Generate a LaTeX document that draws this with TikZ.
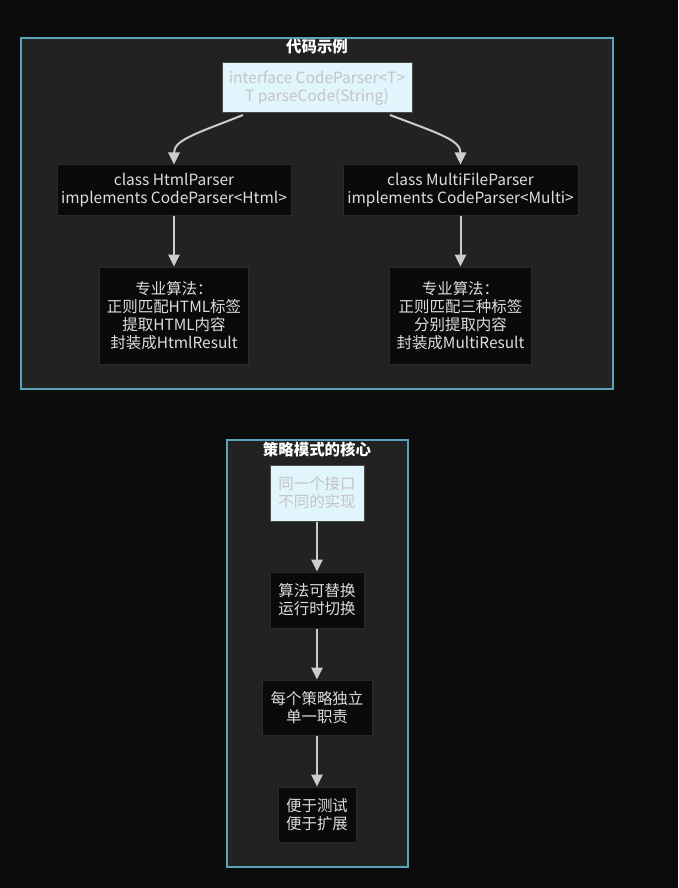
\documentclass[tikz,border=0pt]{standalone}
\usepackage{fontspec}
\setmainfont{Noto Sans CJK SC}
\usepackage{tikz}
\usetikzlibrary{arrows.meta}

\definecolor{pagebg}{HTML}{0B0B0B}
\definecolor{clusterbg}{HTML}{222222}
\definecolor{clusterline}{HTML}{5AA3BC}
\definecolor{ifacebg}{HTML}{E1F5FD}
\definecolor{ifaceline}{HTML}{4A4A4A}
\definecolor{ifacetext}{HTML}{C4C4C4}
\definecolor{boxbg}{HTML}{0A0A0A}
\definecolor{boxline}{HTML}{2A2A2A}
\definecolor{boxtext}{HTML}{DDDDDD}
\definecolor{edgecol}{HTML}{CCCCCC}

\tikzset{
  cluster/.style={draw=clusterline, fill=clusterbg, line width=1pt},
  clustertitle/.style={text=white, font=\fontsize{11.6}{13}\selectfont\bfseries},
  ifacebox/.style={draw=ifaceline, fill=ifacebg, text=ifacetext, align=center,
    inner sep=0pt, line width=0.75pt, font=\fontsize{11.6}{13.5}\selectfont},
  implbox/.style={draw=boxline, fill=boxbg, text=boxtext, align=center,
    inner sep=0pt, line width=0.75pt, font=\fontsize{11.6}{13.5}\selectfont},
  edge/.style={draw=edgecol, line width=1.5pt,
    -{Triangle[length=9pt,width=8.5pt,fill=edgecol]}},
}

\begin{document}
\begin{tikzpicture}[x=0.75pt, y=-0.75pt]
    \fill[pagebg] (0,0) rectangle (678,888);
    \useasboundingbox (0,0) rectangle (678,888);

    % clusters
    \draw[cluster] (21,38) rectangle (613,389);
    \node[clustertitle] (titleA) at (317,47) {代码示例};
    \draw[cluster] (227,440) rectangle (408,867);
    \node[clustertitle] (titleB) at (317,450) {策略模式的核心};

    % code example
    \node[ifacebox, minimum width=142.5pt, minimum height=37.5pt] (iface) at (317,88)
        {interface CodeParser<T>\\T parseCode(String)};
    \node[implbox, minimum width=175.5pt, minimum height=37.5pt] (html) at (174,190)
        {class HtmlParser\\implements CodeParser<Html>};
    \node[implbox, minimum width=176.25pt, minimum height=37.5pt] (multi) at (460.5,190)
        {class MultiFileParser\\implements CodeParser<Multi>};
    \node[implbox, minimum width=111.75pt, minimum height=72.75pt] (algoHtml) at (174,315.5)
        {专业算法：\\正则匹配HTML标签\\提取HTML内容\\封装成HtmlResult};
    \node[implbox, minimum width=106.5pt, minimum height=72.75pt] (algoMulti) at (460.5,315.5)
        {专业算法：\\正则匹配三种标签\\分别提取内容\\封装成MultiResult};

    \coordinate (ifaceL) at (243,115);
    \coordinate (ifaceR) at (390,115);
    \draw[edge] (ifaceL) .. controls (195,134) and (174,140) .. (html.north);
    \draw[edge] (ifaceR) .. controls (440,134) and (460.5,140) .. (multi.north);
    \draw[edge] (html) -- (algoHtml);
    \draw[edge] (multi) -- (algoMulti);

    % core of the pattern
    \node[ifacebox, minimum width=70.5pt, minimum height=42pt] (core) at (317,493)
        {同一个接口\\不同的实现};
    \node[implbox, minimum width=70.5pt, minimum height=42pt] (swap) at (317,600)
        {算法可替换\\运行时切换};
    \node[implbox, minimum width=82.5pt, minimum height=41.25pt] (indep) at (317,707.5)
        {每个策略独立\\单一职责};
    \node[implbox, minimum width=58.5pt, minimum height=41.25pt] (ease) at (317,814.5)
        {便于测试\\便于扩展};

    \draw[edge] (core) -- (swap);
    \draw[edge] (swap) -- (indep);
    \draw[edge] (indep) -- (ease);
\end{tikzpicture}
\end{document}
